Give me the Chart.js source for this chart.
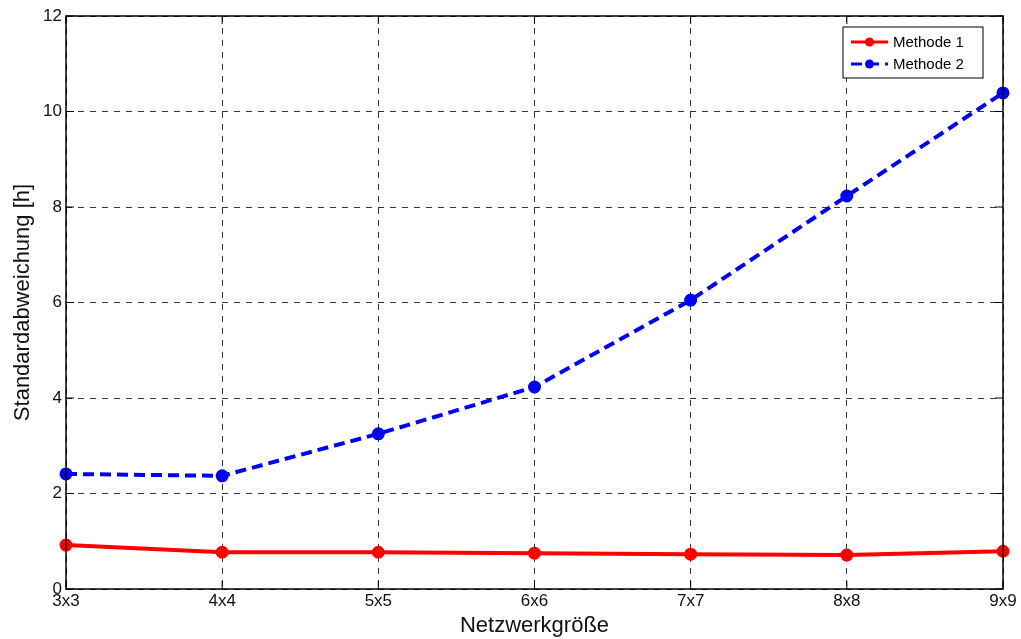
<!DOCTYPE html>
<html>
<head>
<meta charset="utf-8">
<script src="https://cdn.jsdelivr.net/npm/chart.js@4"></script>
<style>
  html, body { margin: 0; padding: 0; background: #fff; }
  #wrap { width: 1021px; height: 639px; }
</style>
</head>
<body>
<div id="wrap"><canvas id="chart"></canvas></div>
<script>
// Netzwerkgrößen (x-Achse)
const sizes = ['3x3', '4x4', '5x5', '6x6', '7x7', '8x8', '9x9'];
// Standardabweichung [h]
const methode1 = [0.92, 0.77, 0.77, 0.75, 0.73, 0.71, 0.79];
const methode2 = [2.41, 2.37, 3.25, 4.23, 6.05, 8.23, 10.39];
const yTicks = [0, 2, 4, 6, 8, 10, 12];

// Rahmen um die Zeichenfläche plus kleine Tickmarken nach innen
const boxPlugin = {
    id: 'box',
    afterDraw(chart) {
        const { ctx, chartArea: a, scales } = chart;
        ctx.save();
        ctx.strokeStyle = '#000';
        ctx.lineWidth = 1.5;
        ctx.strokeRect(a.left, a.top, a.right - a.left, a.bottom - a.top);
        ctx.lineWidth = 1;
        yTicks.forEach(v => {
            const y = scales.y.getPixelForValue(v);
            ctx.beginPath();
            ctx.moveTo(a.left, y); ctx.lineTo(a.left + 8, y);
            ctx.moveTo(a.right, y); ctx.lineTo(a.right - 8, y);
            ctx.stroke();
        });
        sizes.forEach((s, i) => {
            const x = scales.x.getPixelForValue(i);
            ctx.beginPath();
            ctx.moveTo(x, a.bottom); ctx.lineTo(x, a.bottom - 8);
            ctx.moveTo(x, a.top); ctx.lineTo(x, a.top + 8);
            ctx.stroke();
        });
        ctx.restore();
    }
};

// Legende im MATLAB-Stil (Linie mit Marker)
const legendPlugin = {
    id: 'matlabLegend',
    afterDraw(chart) {
        const { ctx, chartArea: a } = chart;
        const w = 140, h = 51;
        const x0 = a.right - 160, y0 = a.top + 11;
        ctx.save();
        ctx.fillStyle = '#fff';
        ctx.fillRect(x0, y0, w, h);
        ctx.strokeStyle = '#000';
        ctx.lineWidth = 1;
        ctx.strokeRect(x0, y0, w, h);
        ctx.font = '15px "Liberation Sans", Arial, sans-serif';
        ctx.textBaseline = 'middle';
        chart.data.datasets.forEach((ds, i) => {
            const y = y0 + 15 + i * 22;
            ctx.strokeStyle = ds.borderColor;
            ctx.lineWidth = 3;
            ctx.setLineDash(ds.borderDash || []);
            ctx.beginPath();
            ctx.moveTo(x0 + 8, y); ctx.lineTo(x0 + 45, y);
            ctx.stroke();
            ctx.setLineDash([]);
            ctx.fillStyle = ds.borderColor;
            ctx.beginPath();
            ctx.arc(x0 + 26.5, y, 4.5, 0, Math.PI * 2);
            ctx.fill();
            ctx.fillStyle = '#000';
            ctx.fillText(ds.label, x0 + 50, y + 1);
        });
        ctx.restore();
    }
};

const ctx = document.getElementById('chart').getContext('2d');
new Chart(ctx, {
    type: 'line',
    data: {
        labels: sizes,
        datasets: [{
            label: 'Methode 1',
            data: methode1,
            borderColor: '#ff0000',
            backgroundColor: '#ff0000',
            borderWidth: 4,
            pointRadius: 4.5,
            pointHoverRadius: 4.5,
            clip: false
        }, {
            label: 'Methode 2',
            data: methode2,
            borderColor: '#0000ff',
            backgroundColor: '#0000ff',
            borderWidth: 4,
            borderDash: [11, 6],
            pointRadius: 4.5,
            pointHoverRadius: 4.5,
            clip: false
        }]
    },
    options: {
        responsive: true,
        maintainAspectRatio: false,
        animation: false,
        layout: { padding: { top: 16, right: 18, left: 0, bottom: 0 } },
        plugins: {
            legend: { display: false },
            tooltip: { enabled: false }
        },
        scales: {
            x: {
                offset: false,
                grid: { color: '#333', drawTicks: false, lineWidth: 1 },
                border: { display: false, dash: [6, 6] },
                ticks: { color: '#111', font: { family: '"Liberation Sans", Arial', size: 17 }, padding: 2, maxRotation: 0 },
                title: { display: true, text: 'Netzwerkgröße', color: '#111', font: { family: '"Liberation Sans", Arial', size: 22 }, padding: { top: 3, bottom: 0 } },
                afterFit(scale) { scale.height = 50; }
            },
            y: {
                min: 0,
                max: 12,
                grid: { color: '#333', drawTicks: false, lineWidth: 1 },
                border: { display: false, dash: [6, 6] },
                ticks: { stepSize: 2, color: '#111', font: { family: '"Liberation Sans", Arial', size: 17 }, padding: 4 },
                title: { display: true, text: 'Standardabweichung [h]', color: '#111', font: { family: '"Liberation Sans", Arial', size: 22 }, padding: { top: 10, bottom: 0 } },
                afterFit(scale) { scale.width = 66; }
            }
        }
    },
    plugins: [boxPlugin, legendPlugin]
});
</script>
</body>
</html>
